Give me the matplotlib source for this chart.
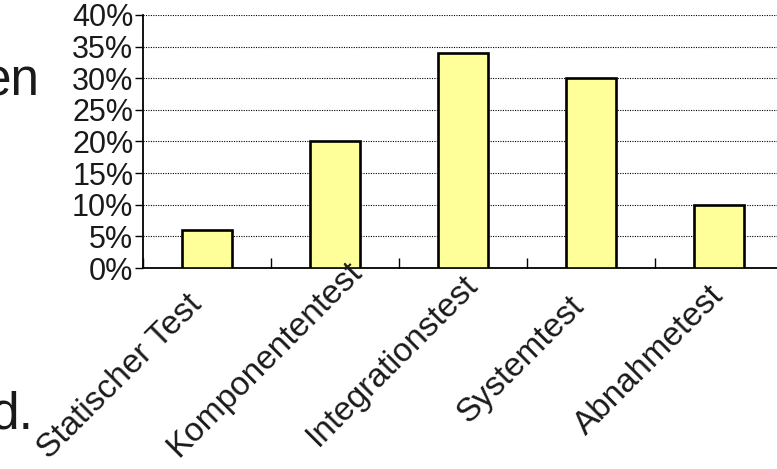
import numpy as np
import matplotlib
matplotlib.use("Agg")
import matplotlib.pyplot as plt
from matplotlib import transforms
from matplotlib.ticker import FuncFormatter, MultipleLocator

# Daten
kategorien = ["Statischer Test", "Komponententest", "Integrationstest", "Systemtest", "Abnahmetest"]
anteile = [0.06, 0.20, 0.34, 0.30, 0.10]
y_ticks = [0.0, 0.05, 0.10, 0.15, 0.20, 0.25, 0.30, 0.35, 0.40]

plt.rcParams["font.family"] = ["Liberation Sans", "DejaVu Sans"]

fig = plt.figure(figsize=(7.77, 4.69), dpi=100)
ax = fig.add_axes([143 / 777, (469 - 268) / 469, (777 - 143) / 777, (268 - 15) / 469])

x = np.arange(len(kategorien))
ax.bar(x, anteile, width=0.39, color="#FFFF99", edgecolor="black", linewidth=1.9, zorder=3)

# Achsen
ax.set_xlim(-0.5, -0.5 + 634 / 128)
ax.set_ylim(0, 0.40)
ax.set_yticks(y_ticks)
ax.yaxis.set_major_formatter(FuncFormatter(lambda v, p: f"{v * 100:.0f}%"))
ax.tick_params(axis="y", direction="out", length=6, width=1, pad=1,
               labelsize=22, labelcolor="#1a1a1a")
for gy in y_ticks[1:]:
    ax.axhline(gy, color="black", linestyle=(0, (1.0, 1.2)), linewidth=0.8, zorder=1)

ax.set_xticks(x)
ax.set_xticklabels([])
ax.tick_params(axis="x", which="major", length=0)
ax.xaxis.set_minor_locator(MultipleLocator(1, offset=0.5))
ax.tick_params(axis="x", which="minor", direction="in", length=7, width=1)

for s in ["top", "right"]:
    ax.spines[s].set_visible(False)
ax.spines["left"].set_linewidth(1.3)
ax.spines["bottom"].set_linewidth(1.3)

# gedrehte Kategorienamen (erste Beschriftung sitzt im Original etwas tiefer)
basis = transforms.blended_transform_factory(ax.transData, ax.transAxes)
for i, name in enumerate(kategorien):
    extra = 0.17 if i == 0 else 0.0
    versatz = transforms.ScaledTranslation(-0.70 - extra, -0.92 - extra, fig.dpi_scale_trans)
    ax.text(i, 0, name, transform=basis + versatz, rotation=45, rotation_mode="anchor",
            ha="center", va="center", fontsize=24, color="#1a1a1a", clip_on=False)

# abgeschnittener Folientext links
fig.text(40 / 777, (469 - 95) / 469, "en", ha="right", va="baseline", fontsize=37, color="#1a1a1a")
fig.text(34 / 777, (469 - 428) / 469, "d.", ha="right", va="baseline", fontsize=37, color="#1a1a1a")

fig.savefig("out.png", dpi=100)
